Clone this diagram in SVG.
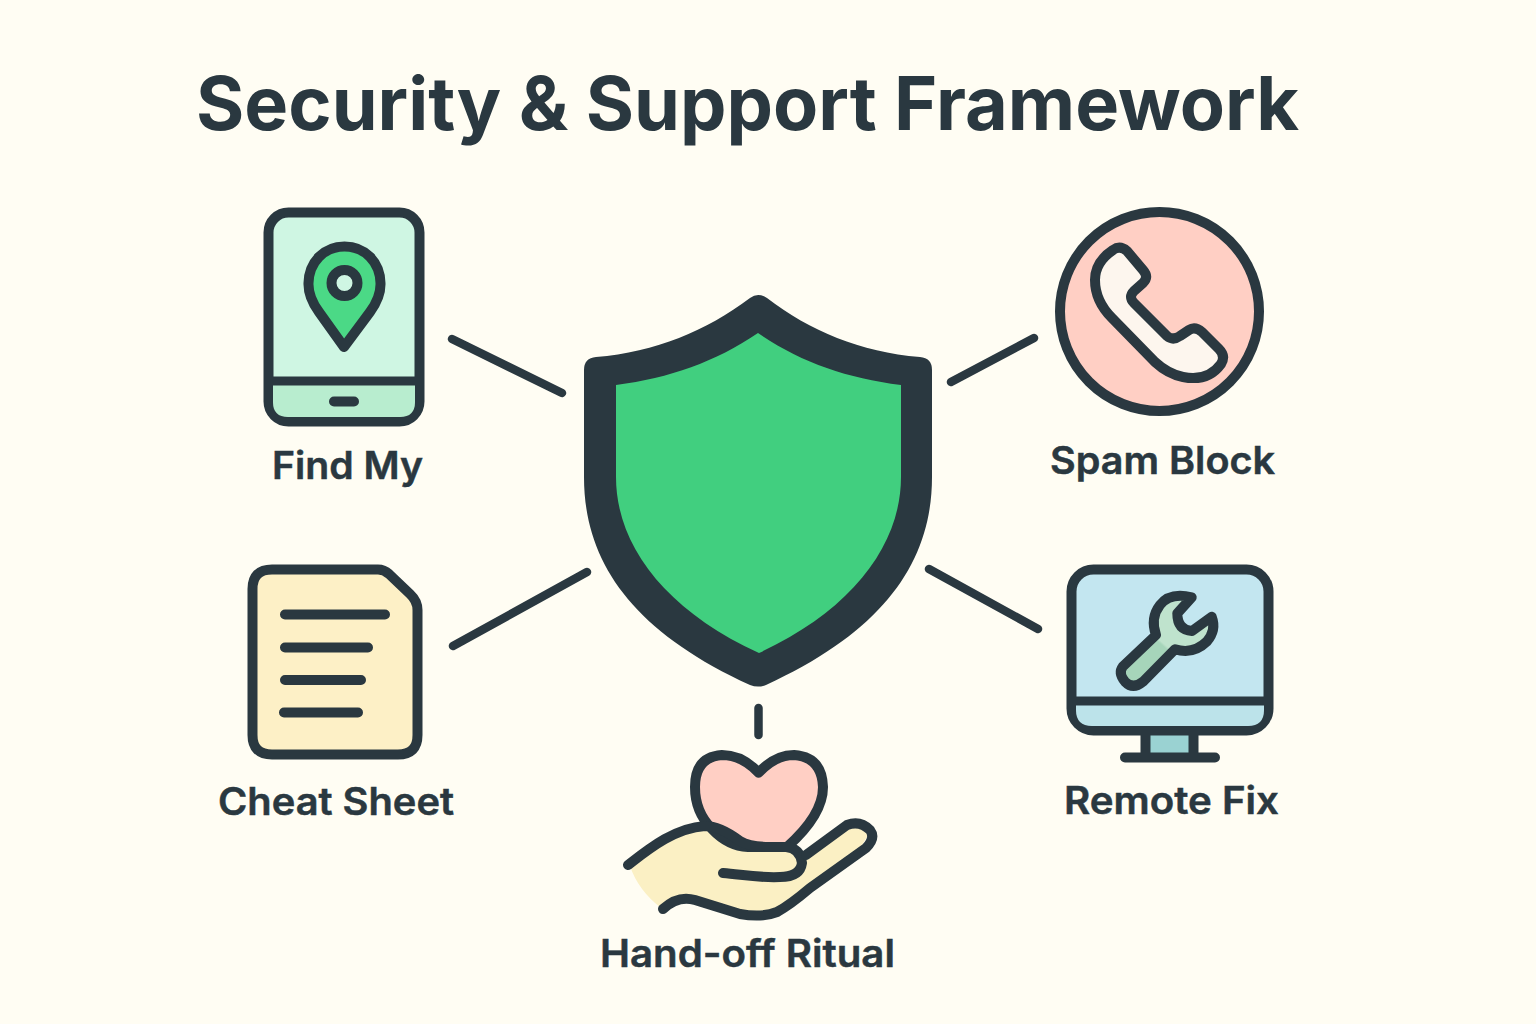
<svg xmlns="http://www.w3.org/2000/svg" width="1536" height="1024" viewBox="0 0 1536 1024">
<style>
.s{stroke:#2a3840;stroke-width:10;stroke-linecap:round;stroke-linejoin:round}
.l{fill:none}
.d{fill:none;stroke:#2a3840;stroke-width:9}
.c{fill:none;stroke:#2a3840;stroke-width:8.500;stroke-linecap:round}
text{font-family:"Inter","Liberation Sans",sans-serif;fill:#2a3840;font-weight:700}
.lb{font-size:38px;font-weight:600;stroke:#2a3840;stroke-width:0.500}
</style>
<defs>
<linearGradient id="wr" gradientUnits="userSpaceOnUse" x1="1145" y1="680" x2="1185" y2="635">
<stop offset="0.62" stop-color="#a6d5ba"/><stop offset="0.66" stop-color="#bfe3cd"/>
</linearGradient>
</defs>
<rect width="1536" height="1024" fill="#fffdf3"/>
<text id="title" x="196" y="130" font-size="74" textLength="1103" lengthAdjust="spacingAndGlyphs">Security &amp; Support Framework</text>
<g id="connectors">
<path class="c" d="M452 339L562 393"/>
<path class="c" d="M587 572L453 646"/>
<path class="c" d="M951 382L1034 338"/>
<path class="c" d="M929 569L1038 629"/>
<path class="c" d="M758.500 708V735"/>
</g>
<g id="shield">
<path fill="#2a3840" d="M750 298Q758 292 767 298C810 331 860 352 920 357Q932 358 932 370V477C932 560 886 630 766 685Q758 688 750 685C630 630 584 560 584 477V370Q584 358 596 357C656 352 706 331 750 298Z"/>
<path fill="#41cf7f" d="M758 333C715 362 670 378 616 385V477C616 545 665 610 759 653C852 610 901 545 901 477V385C846 378 800 362 758 333Z"/>
</g>
<g id="find-my">
<rect class="s" x="268.500" y="212.500" width="151" height="209" rx="20" fill="#cff6e3"/>
<path fill="#b8edcf" d="M273 385H415V402Q415 417 400 417H288Q273 417 273 402Z"/>
<path class="d" d="M268.500 381H419.500"/>
<path d="M334 401.500H354" class="s l"/>
<path class="s" fill="#4bd986" d="M344 347L319 312Q308 297 308.500 283C309 262 324 246.500 344.500 246.500C365 246.500 380 262 380.500 283Q381 297 370 312Z"/>
<circle class="s" cx="344.500" cy="283" r="13" fill="#cff6e3"/>
<text class="lb" x="272" y="479" textLength="151" lengthAdjust="spacingAndGlyphs">Find My</text>
</g>
<g id="spam-block">
<circle class="s" cx="1159.500" cy="311.500" r="99.500" fill="#ffcfc4"/>
<path class="s" fill="#fdf6ee" d="M1113 250Q1120 245 1127 251L1143 270Q1149 277 1143 283L1134 291Q1128 297 1134 303L1167 336Q1173 341 1180 336L1189 330Q1195 326 1202 332L1219 349Q1226 356 1221 364Q1208 382 1183 377Q1168 374 1155 362L1112 318Q1095 301 1095 280Q1095 262 1113 250Z"/>
<text class="lb" x="1050" y="474" textLength="225" lengthAdjust="spacingAndGlyphs">Spam Block</text>
</g>
<g id="cheat-sheet">
<path class="s" fill="#fdf0c6" d="M272 569.500H378Q384 569.500 389 574L410 594Q417.500 601 417.500 610V735Q417.500 754.500 398 754.500H272Q252.500 754.500 252.500 735V589Q252.500 569.500 272 569.500Z"/>
<path class="s l" d="M285 614.500H385M285 647.500H368M285 680H361M284 712.500H358"/>
<text class="lb" x="218" y="815" textLength="236" lengthAdjust="spacingAndGlyphs">Cheat Sheet</text>
</g>
<g id="remote-fix">
<path fill="#9ad2d2" d="M1145 735H1194V753H1145Z"/>
<path class="s l" d="M1145.500 733V757M1193.500 733V757M1125 757.500H1215"/>
<rect class="s" x="1071.500" y="569.500" width="197" height="161" rx="22" fill="#c3e6f0"/>
<path fill="#bce3ea" d="M1076 705H1264V710Q1264 726 1248 726H1092Q1076 726 1076 710Z"/>
<path class="d" d="M1071.500 701H1268.500"/>
<path class="s" fill="url(#wr)" d="M1122.700 666.700L1156 635Q1150 618 1160 605Q1170 592 1191.700 597.300L1177.300 613.300Q1177.300 630 1192 631L1211.700 616.700Q1216.700 630 1206.700 641.700Q1193 655 1175 649.300L1143 681.700Q1133 690 1125 681.700Q1118 673 1122.700 666.700Z"/>
<text class="lb" x="1064" y="814" textLength="215" lengthAdjust="spacingAndGlyphs">Remote Fix</text>
</g>
<g id="hand-off-ritual">
<path fill="#fbf0c4" d="M630 866C650 848 675 828 705 828L740 847H787L800 857L847 826Q860 820 870 832L857 853L803 890Q780 913 757 915L683 900L661 908Q638 890 630 866Z"/>
<path class="s" fill="#ffcfc4" d="M758.700 772.700Q742 755 722 755Q695 757 695 787Q695 812 712 829Q728 846 748 847H787Q823 815 823 787Q822 757 794 755Q775 755 758.700 772.700Z"/>
<path class="s l" d="M628 865C650 848 675 828 705 826Q720 826 740 841Q750 847 770 847H786Q800 848 802 863Q800 877 780 877C760 878 745 875 723 873"/>
<path class="s l" d="M806 855L847 825Q860 820 870 830Q876 838 866 848L810 888Q790 905 777 912Q762 918 740 914L695 900Q678 895 663 909"/>
<text class="lb" x="600" y="967" textLength="295" lengthAdjust="spacingAndGlyphs">Hand-off Ritual</text>
</g>
</svg>
